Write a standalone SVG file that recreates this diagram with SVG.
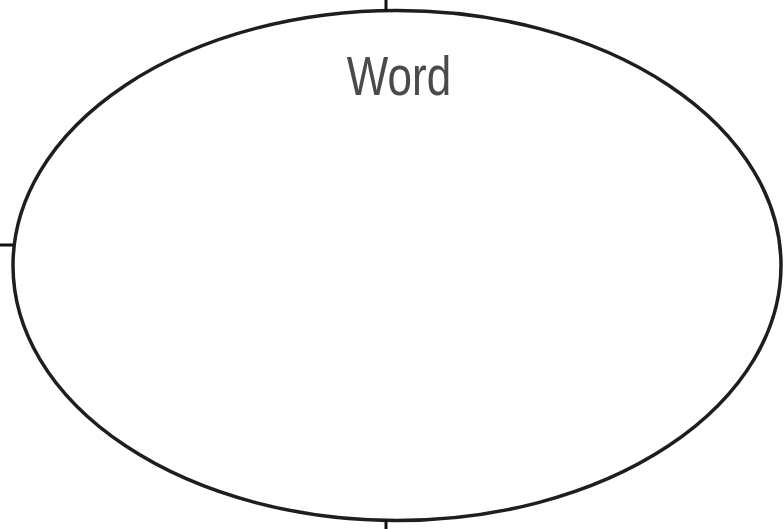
<svg xmlns="http://www.w3.org/2000/svg" width="784" height="529" viewBox="0 0 784 529">
<style>
.shape{fill:#ffffff;stroke:#1e1e1e;stroke-width:3.5}
.tick{stroke:#111;stroke-width:3}
.label{font-family:"Liberation Sans",Arial,sans-serif;font-size:44px;fill:#4a4a4a;text-anchor:middle}
</style>
<rect width="784" height="529" fill="#ffffff"/>
<g id="node-word">
<ellipse class="shape" cx="397" cy="265.5" rx="384" ry="255"/>
<text class="label" transform="translate(399,95) scale(1,1.25)" x="0" y="0">Word</text>
</g>
<g id="connectors">
<line class="tick" x1="386" y1="0" x2="386" y2="11"/>
<line class="tick" x1="0" y1="245" x2="13" y2="245"/>
<line class="tick" x1="386" y1="520" x2="386" y2="529"/>
</g>
</svg>
